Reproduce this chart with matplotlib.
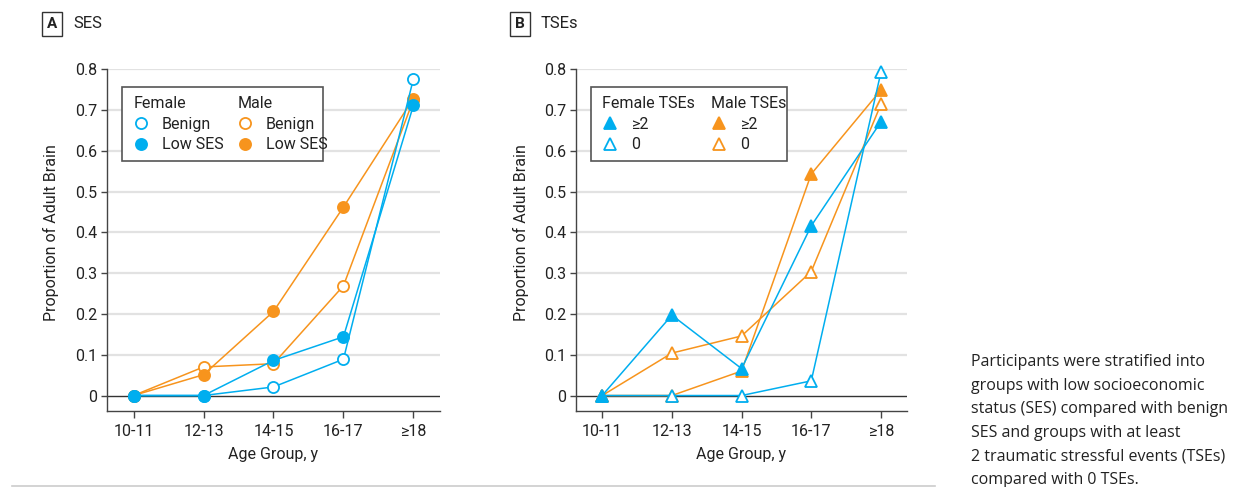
import numpy as np
import matplotlib
matplotlib.use("Agg")
import matplotlib.pyplot as plt
from matplotlib.patches import Rectangle
from matplotlib.lines import Line2D
from matplotlib.legend import Legend

plt.rcParams['font.family'] = ['Roboto', 'DejaVu Sans']

# data
age_groups = ['10-11', '12-13', '14-15', '16-17', '≥18']
yticks = [0, 0.1, 0.2, 0.3, 0.4, 0.5, 0.6, 0.7, 0.8]
ytick_labels = ['0', '0.1', '0.2', '0.3', '0.4', '0.5', '0.6', '0.7', '0.8']

ses_male_benign = [0, 0.070, 0.078, 0.269, 0.725]
ses_male_low = [0, 0.051, 0.206, 0.462, 0.728]
ses_female_benign = [0, 0, 0.021, 0.089, 0.776]
ses_female_low = [0, 0, 0.086, 0.144, 0.711]

tse_male_2 = [0, 0, 0.060, 0.543, 0.749]
tse_male_0 = [0, 0.104, 0.146, 0.304, 0.714]
tse_female_2 = [0, 0.197, 0.066, 0.416, 0.671]
tse_female_0 = [0, 0, 0, 0.036, 0.793]

blue = '#00AEEF'
orange = '#F7941D'
txt = '#222222'

fig = plt.figure(figsize=(12.38, 4.87), dpi=100)
axA = fig.add_axes([0.0864, 0.156, 0.269, 0.702])
axB = fig.add_axes([0.465, 0.156, 0.268, 0.702])

x = np.arange(len(age_groups))
ylo, yhi = -0.038, 0.8


def style(ax, ylab_x):
    ax.set_xlim(-0.38, 4.38)
    ax.set_ylim(ylo, yhi)
    ax.set_yticks(yticks)
    ax.set_yticklabels(ytick_labels)
    ax.set_xticks(x)
    ax.set_xticklabels(age_groups)
    for y in yticks[1:]:
        ax.axhline(y, color='#e2e2e2', lw=1.6, zorder=0)
    ax.axhline(0, color='#333333', lw=1.0, zorder=1)
    for s in ['top', 'right']:
        ax.spines[s].set_visible(False)
    for s in ['left', 'bottom']:
        ax.spines[s].set_color('#444444')
        ax.spines[s].set_linewidth(1.0)
    ax.tick_params(axis='y', length=4, width=1, color='#444444', labelsize=11.5, labelcolor=txt, pad=3)
    ax.tick_params(axis='x', length=5, width=1, color='#444444', labelsize=11.5, labelcolor=txt, pad=4)
    ax.set_xlabel('Age Group, y', fontsize=11.5, color=txt, labelpad=6)
    ax.set_ylabel('Proportion of Adult Brain', fontsize=11.5, color=txt)
    # label centred on the 0-0.8 span
    ax.yaxis.set_label_coords(ylab_x, (0.4 - ylo) / (yhi - ylo))


def series(ax, y, color, marker, filled, z):
    ax.plot(x, y, color=color, lw=1.1, marker=marker, ms=8 if marker == 'o' else 9,
            mfc=color if filled else 'white', mec=color, mew=1.3, clip_on=False, zorder=z)


style(axA, -0.144)
series(axA, ses_male_benign, orange, 'o', False, 3)
series(axA, ses_male_low, orange, 'o', True, 4)
series(axA, ses_female_benign, blue, 'o', False, 5)
series(axA, ses_female_low, blue, 'o', True, 6)

style(axB, -0.141)
series(axB, tse_male_0, orange, '^', False, 3)
series(axB, tse_male_2, orange, '^', True, 4)
series(axB, tse_female_0, blue, '^', False, 5)
series(axB, tse_female_2, blue, '^', True, 6)


def legend_box(ax, marker, left_title, right_title, labels, box_w, male_x):
    ax.add_patch(Rectangle((0.045, 0.731), box_w, 0.216, transform=ax.transAxes,
                           fill=True, facecolor='white', edgecolor='#555555', lw=1.2, zorder=7))
    for xpos, title, color in [(0.06, left_title, blue), (male_x, right_title, orange)]:
        handles = [Line2D([], [], ls='none', marker=marker, ms=8 if marker == 'o' else 8.5,
                          mec=color, mew=1.3, mfc=color if f else 'white') for f in (False, True)]
        if marker == '^':
            handles = handles[::-1]
        leg = Legend(ax, handles, labels, loc='upper left', bbox_to_anchor=(xpos, 0.94),
                     frameon=False, title=title, alignment='left', fontsize=11.5,
                     title_fontsize=11.5, handlelength=1.0, handletextpad=0.8,
                     labelspacing=0.35, borderaxespad=0)
        leg.set_zorder(8)
        for t in leg.get_texts():
            t.set_color(txt)
        leg.get_title().set_color(txt)
        ax.add_artist(leg)


legend_box(axA, 'o', 'Female', 'Male', ['Benign', 'Low SES'], 0.604, 0.372)
legend_box(axB, '^', 'Female TSEs', 'Male TSEs', ['≥2', '0'], 0.591, 0.389)

# panel labels
for xl, letter, name in [(52, 'A', 'SES'), (520, 'B', 'TSEs')]:
    fig.text(xl / 1238, 1 - 24 / 487, letter, ha='center', va='center', fontsize=11,
             fontweight='bold', color=txt,
             bbox=dict(boxstyle='square,pad=0.35', fc='white', ec='#333333', lw=1.0))
    fig.text((xl + 21) / 1238, 1 - 24 / 487, name, ha='left', va='center', fontsize=12, color=txt)

fig.text(971 / 1238, 1 - 354 / 487,
         'Participants were stratified into\ngroups with low socioeconomic\n'
         'status (SES) compared with benign\nSES and groups with at least\n'
         '2 traumatic stressful events (TSEs)\ncompared with 0 TSEs.',
         ha='left', va='top', fontsize=11.5, color=txt, family=['Open Sans', 'DejaVu Sans'],
         linespacing=1.64)

fig.add_artist(Line2D([12 / 1238, 935 / 1238], [1 - 485.5 / 487] * 2, color='#cccccc', lw=1.2))

fig.savefig('out.png', dpi=100)
